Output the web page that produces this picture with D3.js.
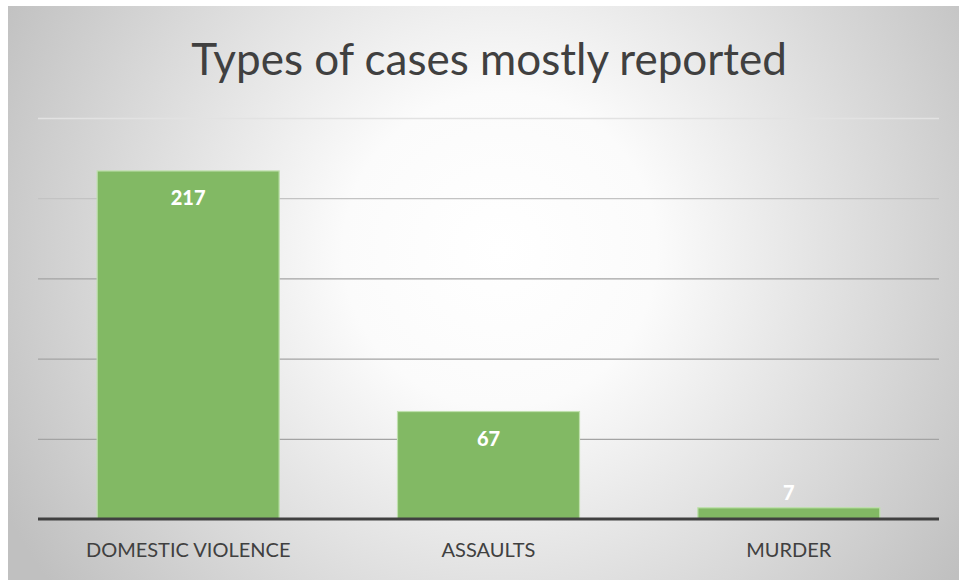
<!DOCTYPE html>
<html><head><meta charset="utf-8">
<script src="https://cdn.jsdelivr.net/npm/d3@7"></script>
<style>html,body{margin:0;padding:0;background:#fff;}svg{display:block;}</style>
</head><body>
<svg id="chart" width="959" height="580"></svg>
<script>
const categories = ["DOMESTIC VIOLENCE", "ASSAULTS", "MURDER"];
const values = [217, 67, 7];
const yTicks = [50, 100, 150, 200, 250];
const title = "Types of cases mostly reported";

const svg = d3.select("#chart");
const W = 959, H = 580;
const font = "Lato, 'Open Sans', sans-serif";

const defs = svg.append("defs");
const rg = defs.append("radialGradient").attr("id","bg")
  .attr("gradientUnits","userSpaceOnUse").attr("cx",500).attr("cy",250).attr("r",560);
rg.append("stop").attr("offset","0%").attr("stop-color","#ffffff");
rg.append("stop").attr("offset","28%").attr("stop-color","#fbfbfb");
rg.append("stop").attr("offset","100%").attr("stop-color","#c0c0c0");

svg.append("rect").attr("x",8).attr("y",6).attr("width",W-8).attr("height",H-6).attr("fill","url(#bg)");

const plot = {left:38, right:939, top:118, bottom:519};
const x = d3.scaleBand().domain(categories).range([plot.left, plot.right]).paddingInner(0.394).paddingOuter(0.197);
const y = d3.scaleLinear().domain([0, 250]).range([plot.bottom, plot.top]);
const gridColor = d3.scaleLinear().domain([150, 250]).range(["#a3a3a3", "#e2e2e2"]).clamp(true);

// gridlines via axis
const gridAxis = d3.axisLeft(y).tickValues(yTicks).tickSize(-(plot.right-plot.left)).tickFormat("");
const gridG = svg.append("g").attr("transform",`translate(${plot.left},0)`).call(gridAxis);
gridG.select(".domain").remove();
gridG.selectAll(".tick line").attr("stroke",d=>gridColor(d)).attr("stroke-width",1.3);

// bars
svg.append("g").selectAll("rect").data(values).join("rect")
  .attr("x",(d,i)=>x(categories[i]))
  .attr("y",d=>y(d))
  .attr("width",x.bandwidth())
  .attr("height",d=>y(0)-y(d))
  .attr("fill","#82b964")
  .attr("stroke","#bfe0ad").attr("stroke-width",1.2);

// baseline
const xAxis = d3.axisBottom(x).tickSize(0).tickPadding(25);
const xg = svg.append("g").attr("transform",`translate(0,${y(0)})`).call(xAxis);
xg.select(".domain").attr("stroke","#404040").attr("stroke-width",3)
  .attr("d",`M${plot.left},0H${plot.right}`);
xg.selectAll(".tick text").attr("font-family",font).attr("font-size",20)
  .attr("fill","#404040").attr("dy","0.66em").attr("font-weight",400);

// value labels
svg.append("g").selectAll("text").data(values).join("text")
  .attr("x",(d,i)=>x(categories[i])+x.bandwidth()/2)
  .attr("y",d=> (y(0)-y(d) > 40) ? y(d)+27 : y(d)-15)
  .attr("dy","0.35em")
  .attr("text-anchor","middle")
  .attr("font-family",font).attr("font-size",20).attr("font-weight",900)
  .attr("fill","#ffffff")
  .text(d=>d);

// title
svg.append("text").attr("x",489).attr("y",60).attr("dy","0.35em")
  .attr("text-anchor","middle").attr("font-family",font).attr("font-size",44)
  .attr("fill","#404040").text(title);
</script>
</body></html>
